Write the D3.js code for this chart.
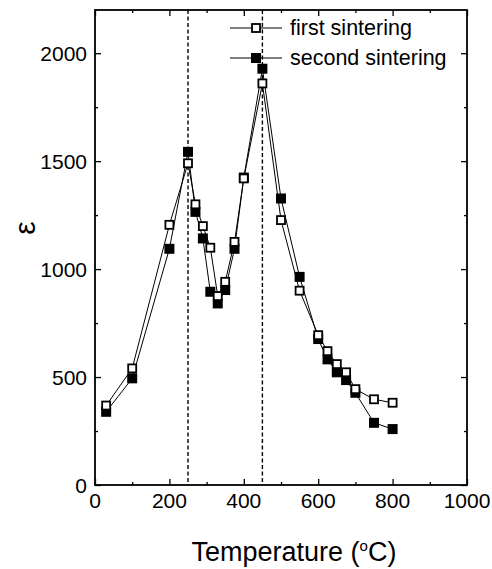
<!DOCTYPE html>
<html>
<head>
<meta charset="utf-8">
<script src="https://cdn.jsdelivr.net/npm/d3@7"></script>
<style>
  body { margin: 0; background: #fff; }
  text { font-family: Arial, "Liberation Sans", sans-serif; fill: #000; }
</style>
</head>
<body>
<div id="chart"></div>
<script>
// temperatures (°C)
var temps = [30, 100, 200, 250, 270, 290, 310, 330, 350, 375, 400, 450, 500, 550, 600, 625, 650, 675, 700, 750, 800];
// permittivity values
var firstSinter = [368, 540, 1205, 1490, 1300, 1199, 1099, 875, 941, 1126, 1420, 1860, 1227, 900, 694, 620, 560, 522, 444, 397, 381];
var secondSinter = [339, 494, 1094, 1543, 1265, 1142, 895, 841, 903, 1094, 1424, 1928, 1327, 964, 676, 582, 522, 486, 427, 288, 259];
var xTicks = [0, 200, 400, 600, 800, 1000];
var yTicks = [0, 500, 1000, 1500, 2000];
var markLines = [250, 450];
var seriesNames = ['first sintering', 'second sintering'];

var W = 492, H = 569;
var margin = { left: 95, right: 25, top: 10, bottom: 84 };
var width = W - margin.left - margin.right;
var height = H - margin.top - margin.bottom;

var svg = d3.select('#chart')
    .append('svg')
    .attr('width', W)
    .attr('height', H);

var g = svg.append('g')
    .attr('transform', 'translate(' + margin.left + ',' + margin.top + ')');

var x = d3.scaleLinear().domain([0, 1000]).range([0, width]);
var y = d3.scaleLinear().domain([0, 2200]).range([height, 0]);

// tick marks only, all pointing inward
function drawAxis(axisGen, tr, vals, size) {
    var a = g.append('g')
        .attr('transform', tr)
        .call(axisGen.tickValues(vals).tickSizeInner(size).tickSizeOuter(0));
    a.select('.domain').remove();
    a.selectAll('line').attr('stroke', '#000').attr('stroke-width', 1.3);
    a.selectAll('text').remove();
    return a;
}

var xMinor = d3.range(100, 1000, 200);
var yMinor = d3.range(250, 2200, 500);

drawAxis(d3.axisTop(x), 'translate(0,' + height + ')', xTicks, 6);
drawAxis(d3.axisTop(x), 'translate(0,' + height + ')', xMinor, 3);
drawAxis(d3.axisBottom(x), 'translate(0,0)', xTicks, 6);
drawAxis(d3.axisBottom(x), 'translate(0,0)', xMinor, 3);
drawAxis(d3.axisRight(y), 'translate(0,0)', yTicks, 6);
drawAxis(d3.axisRight(y), 'translate(0,0)', yMinor, 3);
drawAxis(d3.axisLeft(y), 'translate(' + width + ',0)', yTicks, 6);
drawAxis(d3.axisLeft(y), 'translate(' + width + ',0)', yMinor, 3);

// tick labels
g.append('g')
    .attr('transform', 'translate(0,' + height + ')')
    .selectAll('text')
    .data(xTicks)
    .enter()
    .append('text')
    .attr('x', d => x(d))
    .attr('y', 23)
    .attr('text-anchor', 'middle')
    .style('font-size', '21px')
    .text(d => d);

g.append('g')
    .selectAll('text')
    .data(yTicks)
    .enter()
    .append('text')
    .attr('x', -8)
    .attr('y', d => y(d) + 7.5)
    .attr('text-anchor', 'end')
    .style('font-size', '21px')
    .text(d => d);

// frame
g.append('rect')
    .attr('width', width)
    .attr('height', height)
    .attr('fill', 'none')
    .attr('stroke', '#000')
    .attr('stroke-width', 1.8);

// dashed verticals
g.selectAll('.vline')
    .data(markLines)
    .enter()
    .append('line')
    .attr('class', 'vline')
    .attr('x1', d => x(d))
    .attr('x2', d => x(d))
    .attr('y1', 0)
    .attr('y2', height)
    .attr('stroke', '#000')
    .attr('stroke-width', 1.4)
    .attr('stroke-dasharray', '4,2.5');

var line = d3.line()
    .x(d => x(d[0]))
    .y(d => y(d[1]));

var s1 = temps.map((t, i) => [t, firstSinter[i]]);
var s2 = temps.map((t, i) => [t, secondSinter[i]]);
var ms = 10;

g.append('path')
    .datum(s2)
    .attr('fill', 'none')
    .attr('stroke', '#000')
    .attr('stroke-width', 1)
    .attr('d', line);

g.append('path')
    .datum(s1)
    .attr('fill', 'none')
    .attr('stroke', '#000')
    .attr('stroke-width', 1)
    .attr('d', line);

// second sintering (filled) underneath the open squares
g.selectAll('.sq2')
    .data(s2)
    .enter()
    .append('rect')
    .attr('class', 'sq2')
    .attr('x', d => x(d[0]) - ms / 2)
    .attr('y', d => y(d[1]) - ms / 2)
    .attr('width', ms)
    .attr('height', ms)
    .attr('fill', '#000');

g.selectAll('.sq1')
    .data(s1)
    .enter()
    .append('rect')
    .attr('class', 'sq1')
    .attr('x', d => x(d[0]) - ms / 2 + 1)
    .attr('y', d => y(d[1]) - ms / 2 + 1)
    .attr('width', ms - 2)
    .attr('height', ms - 2)
    .attr('fill', '#fff')
    .attr('stroke', '#000')
    .attr('stroke-width', 1.8);

// legend
var leg = g.append('g').attr('transform', 'translate(' + (230 - margin.left) + ',0)');
seriesNames.forEach(function(name, i) {
    var ly = 18 + i * 30;
    leg.append('line')
        .attr('x1', 0).attr('x2', 52)
        .attr('y1', ly).attr('y2', ly)
        .attr('stroke', '#000')
        .attr('stroke-width', 1);
    if (i === 0) {
        leg.append('rect')
            .attr('x', 22).attr('y', ly - 4)
            .attr('width', 8).attr('height', 8)
            .attr('fill', '#fff')
            .attr('stroke', '#000')
            .attr('stroke-width', 1.8);
    } else {
        leg.append('rect')
            .attr('x', 21).attr('y', ly - 5)
            .attr('width', 10).attr('height', 10)
            .attr('fill', '#000');
    }
    leg.append('text')
        .attr('x', 60)
        .attr('y', ly + 7)
        .style('font-size', '21.5px')
        .text(name);
});

// axis titles
svg.append('text')
    .attr('x', 294)
    .attr('y', 561)
    .attr('text-anchor', 'middle')
    .style('font-size', '27px')
    .html('Temperature (<tspan dy="-10" font-size="15px">o</tspan><tspan dy="10">C)</tspan>');

svg.append('text')
    .attr('transform', 'translate(35,228) rotate(-90)')
    .attr('text-anchor', 'middle')
    .style('font-size', '30px')
    .text('ε');
</script>
</body>
</html>
